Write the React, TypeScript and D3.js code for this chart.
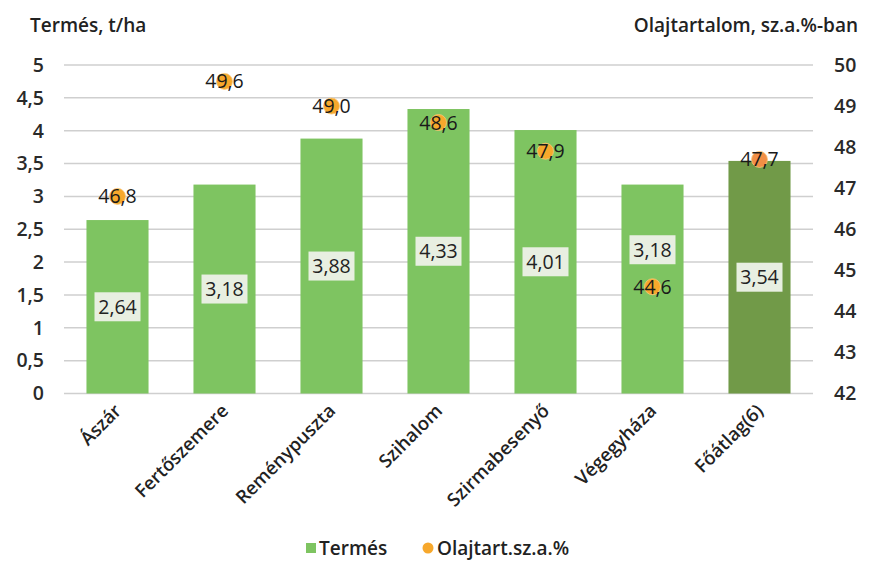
import React from "react";
import * as d3 from "d3";

const categories = ["Ászár", "Fertőszemere", "Reménypuszta", "Szihalom", "Szirmabesenyő", "Végegyháza", "Főátlag(6)"];
const yieldValues = [2.64, 3.18, 3.88, 4.33, 4.01, 3.18, 3.54];
const oilValues = [46.8, 49.6, 49.0, 48.6, 47.9, 44.6, 47.7];
const leftTicks = [0, 0.5, 1, 1.5, 2, 2.5, 3, 3.5, 4, 4.5, 5];
const rightTicks = [42, 43, 44, 45, 46, 47, 48, 49, 50];

const W = 875, H = 562;
const M = { left: 64, right: 813, top: 65, bottom: 393.5 };
const FONT = "'Open Sans', sans-serif";
const fmt = (v: number, d: number) => v.toFixed(d).replace(".", ",");

export default function App() {
  const x = d3.scaleBand<string>().domain(categories).range([M.left, M.right]).paddingInner(0.42).paddingOuter(0.21);
  const yL = d3.scaleLinear().domain([0, 5]).range([M.bottom, M.top]);
  const yR = d3.scaleLinear().domain([42, 50]).range([M.bottom, M.top]);
  const bw = x.bandwidth();

  return (
    <svg width={W} height={H} style={{ position: "absolute", left: 0, top: 0, background: "#fff" }} fontFamily={FONT}>
      {leftTicks.map((t) => (
        <line key={t} x1={M.left} x2={M.right} y1={yL(t)} y2={yL(t)} stroke="#CFCFCF" strokeWidth={1.5} />
      ))}
      {leftTicks.map((t) => (
        <text key={"l" + t} x={44} y={yL(t)} dy="0.35em" textAnchor="end" fontSize={19.5} fontWeight={600} fill="#2a2a2a">
          {fmt(t, t % 1 === 0 ? 0 : 1)}
        </text>
      ))}
      {rightTicks.map((t) => (
        <text key={"r" + t} x={834} y={yR(t)} dy="0.35em" textAnchor="start" fontSize={19.5} fontWeight={600} fill="#2a2a2a">
          {t}
        </text>
      ))}
      <text x={30} y={32} fontSize={19} fontWeight={600} fill="#222">Termés, t/ha</text>
      <text x={858} y={32} textAnchor="end" fontSize={19} fontWeight={600} fill="#222">Olajtartalom, sz.a.%-ban</text>
      {categories.map((c, i) => (
        <rect key={"b" + c} x={x(c)} y={yL(yieldValues[i])} width={bw} height={M.bottom - yL(yieldValues[i])}
          fill={i === categories.length - 1 ? "#719A48" : "#7EC461"} />
      ))}
      {categories.map((c, i) => {
        const cx = (x(c) as number) + bw / 2;
        let cy = (yL(yieldValues[i]) + M.bottom) / 2;
        const my = yR(oilValues[i]);
        if (Math.abs(my - cy) < 22) cy = my - 37;
        const txt = fmt(yieldValues[i], 2);
        return (
          <g key={"bl" + c}>
            <rect x={cx - 23} y={cy - 14.5} width={46} height={29} fill="#E8EFE1" />
            <text x={cx} y={cy} dy="0.36em" textAnchor="middle" fontSize={19.5} fontWeight={500} fill="#222">{txt}</text>
          </g>
        );
      })}
      {categories.map((c, i) => {
        const cx = (x(c) as number) + bw / 2;
        const cy = yR(oilValues[i]);
        return (
          <g key={"o" + c}>
            <circle cx={cx} cy={cy} r={8} fill={i === categories.length - 1 ? "#F28F45" : "#F7A82C"} stroke="#F9C77A" strokeWidth={0.8} />
            <text x={cx} y={cy} dy="0.36em" textAnchor="middle" fontSize={19.5} fontWeight={500} fill="#1a1a1a">{fmt(oilValues[i], 1)}</text>
          </g>
        );
      })}
      {categories.map((c) => {
        const cx = (x(c) as number) + bw / 2 + 5;
        return (
          <text key={"x" + c} transform={`translate(${cx},${412}) rotate(-45)`} textAnchor="end" fontSize={18.5} fontWeight={600} fill="#222">
            {c}
          </text>
        );
      })}
      <rect x={306} y={543} width={10} height={10} fill="#7EC461" />
      <text x={319} y={548} dy="0.36em" fontSize={19} fontWeight={600} fill="#222">Termés</text>
      <circle cx={428} cy={548} r={5.5} fill="#F7A82C" />
      <text x={437} y={548} dy="0.36em" fontSize={19} fontWeight={600} fill="#222">Olajtart.sz.a.%</text>
    </svg>
  );
}
